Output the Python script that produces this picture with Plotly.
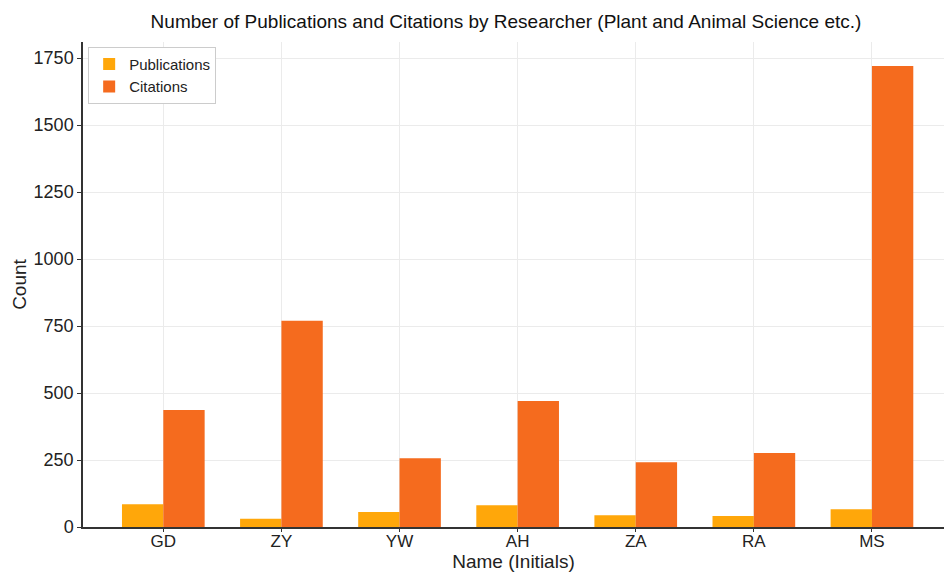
import plotly.graph_objects as go

# Researchers (initials) and their counts
names = ["GD", "ZY", "YW", "AH", "ZA", "RA", "MS"]
publications = [85, 31, 56, 81, 44, 41, 66]
citations = [437, 770, 257, 470, 242, 276, 1720]
y_ticks = [0, 250, 500, 750, 1000, 1250, 1500, 1750]

pub_color = "#FFA70A"
cit_color = "#F56B1E"
font_family = "Liberation Sans, Arial, sans-serif"

fig = go.Figure()
fig.add_trace(go.Bar(x=names, y=publications, name="Publications",
                     marker=dict(color=pub_color, line=dict(width=0)),
                     offsetgroup="p"))
fig.add_trace(go.Bar(x=names, y=citations, name="Citations",
                     marker=dict(color=cit_color, line=dict(width=0)),
                     offsetgroup="c"))

fig.update_layout(
    width=944, height=574,
    margin=dict(l=83, r=0, t=42, b=47),
    paper_bgcolor="white", plot_bgcolor="white",
    barmode="group", bargap=0.3, bargroupgap=0,
    font=dict(family=font_family, color="#222222", size=17),
    title=dict(text="Number of Publications and Citations by Researcher (Plant and Animal Science etc.)",
               x=0.536, xanchor="center", y=0.962, yanchor="middle",
               font=dict(size=19, color="#111111")),
    showlegend=True,
    legend=dict(x=0.006, y=0.99, xanchor="left", yanchor="top",
                bgcolor="white", bordercolor="#CCCCCC", borderwidth=1,
                font=dict(size=15), tracegroupgap=0, itemwidth=30),
    xaxis=dict(title=dict(text="Name (Initials)", font=dict(size=19), standoff=0),
               range=[-0.68, 6.61], showgrid=True, gridcolor="#EBEBEB", gridwidth=1,
               showline=True, linecolor="#333333", linewidth=1.5,
               ticks="outside", ticklen=3, tickcolor="#333333",
               ticklabelstandoff=-5,
               tickfont=dict(size=17)),
    yaxis=dict(title=dict(text="Count", font=dict(size=19), standoff=2),
               range=[0, 1810], tickvals=y_ticks, showgrid=True,
               gridcolor="#EBEBEB", gridwidth=1,
               showline=True, linecolor="#333333", linewidth=1.5,
               ticks="outside", ticklen=4, tickcolor="#333333",
               tickfont=dict(size=18), zeroline=False),
)

fig.write_html("out.html")
